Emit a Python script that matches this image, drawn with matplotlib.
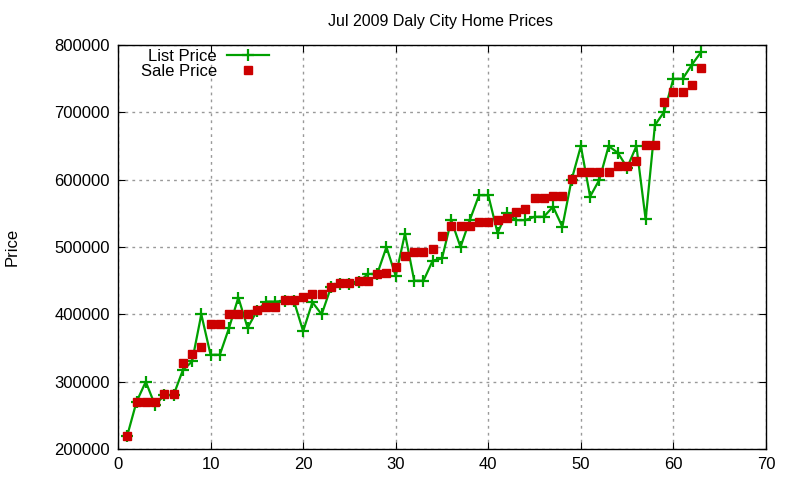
import matplotlib
matplotlib.use('Agg')
import matplotlib.pyplot as plt

# listing number (by sale order)
idx = list(range(1, 64))

list_price = [220000, 270000, 300000, 265000, 280000, 280000, 317000, 330000, 400000, 340000,
              340000, 380000, 425000, 380000, 405000, 419000, 419000, 420000, 420000, 375000,
              418000, 400000, 440000, 445000, 445000, 448000, 460000, 460000, 500000, 457000,
              520000, 450000, 450000, 480000, 483000, 540000, 500000, 540000, 577000, 577000,
              521000, 551000, 540000, 540000, 545000, 545000, 560000, 530000, 600000, 650000,
              575000, 600000, 650000, 640000, 618000, 650000, 541000, 681000, 701000, 750000,
              750000, 771000, 790000]

sale_price = [220000, 270000, 270000, 270000, 281000, 281000, 328000, 341000, 351000, 386000,
              386000, 401000, 401000, 401000, 406000, 411000, 411000, 421000, 421000, 426000,
              431000, 431000, 441000, 446000, 446000, 450000, 450000, 460000, 461000, 471000,
              486000, 493000, 493000, 497000, 516000, 531000, 531000, 531000, 537000, 537000,
              540000, 543000, 552000, 556000, 573000, 573000, 576000, 576000, 601000, 611000,
              611000, 611000, 611000, 621000, 621000, 628000, 651000, 651000, 716000, 730000,
              730000, 741000, 766000]

plt.rcParams['font.family'] = ['Liberation Sans', 'DejaVu Sans']

fig = plt.figure(figsize=(8, 4.8), dpi=100)
ax = fig.add_axes([0.1475, 0.0646, 0.81, 0.8414])

ax.plot(idx, list_price, color='#00a000', lw=1.6, marker='+', ms=8, mew=1.6, label='List Price')
ax.plot(idx, sale_price, ls='none', marker='s', ms=6, color='#cc0000', label='Sale Price')

ax.set_xlim(0, 70)
ax.set_ylim(200000, 800000)
ax.set_xticks(range(0, 71, 10))
ax.set_yticks(range(200000, 800001, 100000))
ax.set_yticklabels([str(v) for v in range(200000, 800001, 100000)])
ax.tick_params(direction='in', top=True, right=True, labelsize=12, length=5, pad=6)
ax.grid(True, color='#999999', ls=(0, (2, 3)), lw=1)
for s in ax.spines.values():
    s.set_linewidth(1)

fig.text(0.55, 0.956, 'Jul 2009 Daly City Home Prices', ha='center', va='center', fontsize=11.5)
fig.text(0.015, 0.485, 'Price', rotation=90, ha='center', va='center', fontsize=12)

ax.legend(loc='upper left', bbox_to_anchor=(0.02, 1.015), frameon=False, fontsize=12,
          markerfirst=False, handlelength=2.5, handletextpad=0.6, labelspacing=0.0,
          borderaxespad=0.2)

fig.savefig('out.png', dpi=100)
